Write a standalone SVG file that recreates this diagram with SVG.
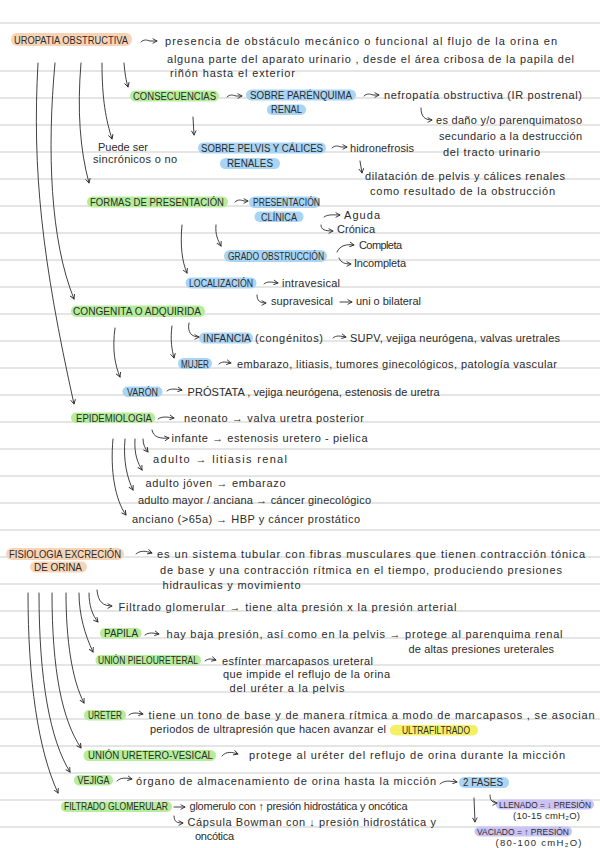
<svg xmlns="http://www.w3.org/2000/svg" width="600" height="848" viewBox="0 0 600 848">
<defs>
<style>
.t{font-family:"Liberation Sans",Arial,sans-serif;font-size:11px;fill:#2b2b2b}
.s{font-family:"Liberation Sans",Arial,sans-serif;font-size:9.5px;fill:#2b2b2b}
.u{font-family:"Liberation Sans",Arial,sans-serif;font-size:10px;fill:#2b2b2b}
.us{font-family:"Liberation Sans",Arial,sans-serif;font-size:8.5px;fill:#2b2b2b}
.c{fill:none;stroke:#2b2b2b;stroke-width:0.9;stroke-linecap:round}
.rl{stroke:#dcdcdc;stroke-width:1.3}
.or{fill:#f8d4b6}
.gr{fill:#b5ed9b}
.bl{fill:#a9d4f4}
.ye{fill:#f4f066}
.pu{fill:#cbc3f4}
</style>
<marker id="ah" viewBox="0 0 6 6" refX="5" refY="3" markerWidth="6" markerHeight="6" orient="auto" markerUnits="userSpaceOnUse">
<path d="M0.6,0.6 L5,3 L0.6,5.4" fill="none" stroke="#2b2b2b" stroke-width="0.9"/>
</marker>
</defs>
<rect width="600" height="848" fill="#ffffff"/>
<g id="ruled-lines">
<line class="rl" x1="0" y1="23" x2="600" y2="23"/>
<line class="rl" x1="0" y1="71" x2="600" y2="71"/>
<line class="rl" x1="0" y1="98" x2="600" y2="98"/>
<line class="rl" x1="0" y1="125" x2="600" y2="125"/>
<line class="rl" x1="0" y1="152" x2="600" y2="152"/>
<line class="rl" x1="0" y1="179" x2="600" y2="179"/>
<line class="rl" x1="0" y1="206" x2="600" y2="206"/>
<line class="rl" x1="0" y1="233" x2="600" y2="233"/>
<line class="rl" x1="0" y1="260" x2="600" y2="260"/>
<line class="rl" x1="0" y1="287" x2="600" y2="287"/>
<line class="rl" x1="0" y1="314" x2="600" y2="314"/>
<line class="rl" x1="0" y1="341" x2="600" y2="341"/>
<line class="rl" x1="0" y1="368" x2="600" y2="368"/>
<line class="rl" x1="0" y1="395" x2="600" y2="395"/>
<line class="rl" x1="0" y1="422" x2="600" y2="422"/>
<line class="rl" x1="0" y1="449" x2="600" y2="449"/>
<line class="rl" x1="0" y1="476" x2="600" y2="476"/>
<line class="rl" x1="0" y1="503" x2="600" y2="503"/>
<line class="rl" x1="0" y1="530" x2="600" y2="530"/>
<line class="rl" x1="0" y1="557" x2="600" y2="557"/>
<line class="rl" x1="0" y1="584" x2="600" y2="584"/>
<line class="rl" x1="0" y1="611" x2="600" y2="611"/>
<line class="rl" x1="0" y1="638" x2="600" y2="638"/>
<line class="rl" x1="0" y1="665" x2="600" y2="665"/>
<line class="rl" x1="0" y1="692" x2="600" y2="692"/>
<line class="rl" x1="0" y1="719" x2="600" y2="719"/>
<line class="rl" x1="0" y1="746" x2="600" y2="746"/>
<line class="rl" x1="0" y1="773" x2="600" y2="773"/>
<line class="rl" x1="0" y1="800" x2="600" y2="800"/>
<line class="rl" x1="0" y1="827" x2="600" y2="827"/>
</g>

<g id="uropatia"><rect class="or" x="11" y="33" width="121" height="13" rx="6"/><text class="u" x="14" y="43.5" textLength="114" lengthAdjust="spacingAndGlyphs">UROPATIA OBSTRUCTIVA</text></g>
<g id="def-uropatia">
<text class="t" x="165" y="45" textLength="392">presencia de obstáculo mecánico o funcional al flujo de la orina  en</text>
<text class="t" x="167" y="63" textLength="407">alguna parte del aparato urinario , desde el área cribosa de la papila del</text>
<text class="t" x="170" y="77" textLength="125">riñón hasta el exterior</text>
</g>
<g id="consecuencias"><rect class="gr" x="130" y="90.5" width="89" height="11" rx="5.5"/><text class="u" x="133" y="99.5" textLength="83" lengthAdjust="spacingAndGlyphs">CONSECUENCIAS</text></g>
<g id="parenquima"><rect class="bl" x="246" y="89.5" width="110" height="11" rx="5.5"/><rect class="bl" x="267" y="104.5" width="39" height="10.5" rx="5"/><text class="u" x="250" y="99" textLength="102" lengthAdjust="spacingAndGlyphs">SOBRE PARÉNQUIMA</text><text class="u" x="271" y="113" textLength="31" lengthAdjust="spacingAndGlyphs">RENAL</text></g>
<g id="nefropatia"><text class="t" x="384" y="99" textLength="198">nefropatía obstructiva (IR postrenal)</text></g>
<g id="dano">
<text class="t" x="436" y="124" textLength="146">es daño y/o parenquimatoso</text>
<text class="t" x="439" y="139.5" textLength="143">secundario a la destrucción</text>
<text class="t" x="443" y="155.5" textLength="97">del tracto urinario</text>
</g>
<g id="puede-ser"><text class="t" x="98" y="151" textLength="50">Puede ser</text><text class="t" x="93" y="163" textLength="84">sincrónicos o no</text></g>
<g id="pelvis"><rect class="bl" x="198" y="142.5" width="128" height="11" rx="5.5"/><rect class="bl" x="220" y="158" width="60" height="11" rx="5.5"/><text class="u" x="201" y="152" textLength="122" lengthAdjust="spacingAndGlyphs">SOBRE PELVIS Y CÁLICES</text><text class="u" x="227" y="167" textLength="46" lengthAdjust="spacingAndGlyphs">RENALES</text></g>
<g id="hidronefrosis"><text class="t" x="350" y="151.5" textLength="64">hidronefrosis</text></g>
<g id="dilatacion">
<text class="t" x="365" y="179.5" textLength="200">dilatación de pelvis y cálices renales</text>
<text class="t" x="370" y="195" textLength="185">como resultado de la obstrucción</text>
</g>
<g id="formas"><rect class="gr" x="87" y="196.5" width="141" height="11" rx="5.5"/><text class="u" x="90" y="206" textLength="134" lengthAdjust="spacingAndGlyphs">FORMAS DE PRESENTACIÓN</text></g>
<g id="clinica"><rect class="bl" x="249" y="196.5" width="71" height="11.5" rx="5.5"/><rect class="bl" x="254.5" y="211.5" width="49" height="10.5" rx="5"/><text class="u" x="253" y="206" textLength="67" lengthAdjust="spacingAndGlyphs">PRESENTACIÓN</text><text class="u" x="261" y="220.5" textLength="36" lengthAdjust="spacingAndGlyphs">CLÍNICA</text></g>
<g id="aguda"><text class="t" x="344" y="219" textLength="36">Aguda</text></g>
<g id="cronica"><text class="t" x="337" y="233" textLength="38">Crónica</text></g>
<g id="grado"><rect class="bl" x="224" y="250" width="103" height="12" rx="6"/><text class="u" x="228" y="259.5" textLength="96" lengthAdjust="spacingAndGlyphs">GRADO OBSTRUCCIÓN</text></g>
<g id="completa"><text class="t" x="359" y="248.5" textLength="43">Completa</text></g>
<g id="incompleta"><text class="t" x="354" y="267" textLength="52">Incompleta</text></g>
<g id="localizacion"><rect class="bl" x="185.5" y="277.5" width="71" height="11" rx="5.5"/><text class="u" x="189" y="287" textLength="64" lengthAdjust="spacingAndGlyphs">LOCALIZACIÓN</text></g>
<g id="intravesical"><text class="t" x="282" y="287" textLength="58">intravesical</text></g>
<g id="supravesical"><text class="t" x="271" y="305" textLength="62">supravesical</text></g>
<g id="bilateral"><text class="t" x="356" y="304.5" textLength="65">uni o bilateral</text></g>
<g id="congenita"><rect class="gr" x="71" y="305.5" width="134" height="11.5" rx="5.5"/><text class="u" x="73" y="315" textLength="128" lengthAdjust="spacingAndGlyphs">CONGENITA O ADQUIRIDA</text></g>
<g id="infancia"><rect class="bl" x="199" y="332.5" width="54" height="11" rx="5.5"/><text class="u" x="203" y="342" textLength="48" lengthAdjust="spacingAndGlyphs">INFANCIA</text><text class="t" x="255" y="342" textLength="68">(congénitos)</text></g>
<g id="supv"><text class="t" x="350" y="342" textLength="210">SUPV, vejiga neurógena, valvas uretrales</text></g>
<g id="mujer"><rect class="bl" x="178" y="358" width="34" height="11" rx="5.5"/><text class="u" x="181" y="367.5" textLength="28" lengthAdjust="spacingAndGlyphs">MUJER</text></g>
<g id="mujer-causas"><text class="t" x="237" y="368" textLength="320">embarazo, litiasis, tumores ginecológicos, patología vascular</text></g>
<g id="varon"><rect class="bl" x="122.5" y="386.5" width="40" height="10.5" rx="5"/><text class="u" x="127" y="395.5" textLength="31" lengthAdjust="spacingAndGlyphs">VARÓN</text></g>
<g id="varon-causas"><text class="t" x="187.5" y="395.5" textLength="252">PRÓSTATA , vejiga neurógena, estenosis de uretra</text></g>
<g id="epidemiologia"><rect class="gr" x="71" y="412.5" width="84" height="10.5" rx="5"/><text class="u" x="76" y="421.5" textLength="76" lengthAdjust="spacingAndGlyphs">EPIDEMIOLOGIA</text></g>
<g id="neonato"><text class="t" x="184" y="422" textLength="180">neonato → valva uretra posterior</text></g>
<g id="infante"><text class="t" x="171.5" y="442" textLength="196">infante → estenosis uretero - pielica</text></g>
<g id="adulto"><text class="t" x="153" y="463" textLength="134">adulto → litiasis renal</text></g>
<g id="adulto-joven"><text class="t" x="145.5" y="486.5" textLength="140">adulto jóven → embarazo</text></g>
<g id="adulto-mayor"><text class="t" x="138" y="504" textLength="233">adulto mayor / anciana → cáncer ginecológico</text></g>
<g id="anciano"><text class="t" x="132" y="523" textLength="228">anciano (&gt;65a) → HBP y cáncer prostático</text></g>

<g id="fisiologia"><rect class="or" x="6" y="548" width="118" height="12" rx="6"/><rect class="or" x="30" y="561.5" width="57" height="11" rx="5.5"/><text class="u" x="9" y="558" textLength="112" lengthAdjust="spacingAndGlyphs">FISIOLOGIA EXCRECIÓN</text><text class="u" x="34" y="570.5" textLength="48" lengthAdjust="spacingAndGlyphs">DE ORINA</text></g>
<g id="def-fisiologia">
<text class="t" x="157" y="558" textLength="428">es un sistema tubular con fibras musculares que tienen  contracción tónica</text>
<text class="t" x="160" y="573.5" textLength="402">de base y una contracción rítmica en el tiempo, produciendo presiones</text>
<text class="t" x="162.5" y="589" textLength="138">hidraulicas y movimiento</text>
</g>
<g id="filtrado"><text class="t" x="118.5" y="610.5" textLength="338">Filtrado glomerular → tiene alta presión x la presión arterial</text></g>
<g id="papila"><rect class="gr" x="100" y="628" width="41.5" height="10.5" rx="5"/><text class="u" x="104" y="637" textLength="34" lengthAdjust="spacingAndGlyphs">PAPILA</text></g>
<g id="papila-desc">
<text class="t" x="166.5" y="637.5" textLength="396">hay baja presión, así como en la pelvis → protege al parenquima renal</text>
<text class="t" x="408.5" y="652.5" textLength="145.5">de altas presiones ureterales</text>
</g>
<g id="pieloureteral"><rect class="gr" x="95.5" y="655" width="105.5" height="10.5" rx="5"/><text class="u" x="98" y="664" textLength="100" lengthAdjust="spacingAndGlyphs">UNIÓN PIELOURETERAL</text></g>
<g id="pieloureteral-desc">
<text class="t" x="222" y="665" textLength="151">esfínter marcapasos ureteral</text>
<text class="t" x="223" y="678" textLength="167">que impide el reflujo de la orina</text>
<text class="t" x="229.5" y="692" textLength="115">del uréter a la pelvis</text>
</g>
<g id="ureter"><rect class="gr" x="84" y="710" width="42" height="10.5" rx="5"/><text class="u" x="88" y="719" textLength="34" lengthAdjust="spacingAndGlyphs">URETER</text></g>
<g id="ureter-desc">
<text class="t" x="148.5" y="719" textLength="446">tiene un tono  de base y de manera rítmica a modo de marcapasos , se asocian</text>
<text class="t" x="150" y="733" textLength="236">periodos de ultrapresión que hacen avanzar el</text>
<rect class="ye" x="390" y="725" width="88" height="10.5" rx="5"/>
<text class="u" x="402" y="733.5" textLength="68" lengthAdjust="spacingAndGlyphs">ULTRAFILTRADO</text>
</g>
<g id="ureterovesical"><rect class="gr" x="83.5" y="750" width="132.5" height="11" rx="5.5"/><text class="u" x="88" y="759" textLength="125" lengthAdjust="spacingAndGlyphs">UNIÓN URETERO-VESICAL</text></g>
<g id="ureterovesical-desc"><text class="t" x="249" y="759" textLength="316">protege al uréter del reflujo de orina durante la micción</text></g>
<g id="vejiga"><rect class="gr" x="74" y="775" width="39" height="10.5" rx="5"/><text class="u" x="77.5" y="784" textLength="32" lengthAdjust="spacingAndGlyphs">VEJIGA</text></g>
<g id="vejiga-desc"><text class="t" x="136" y="785" textLength="300">órgano de almacenamiento de orina hasta la micción</text></g>
<g id="fases"><rect class="bl" x="459" y="777" width="50" height="11" rx="5.5"/><text class="u" x="463" y="786" textLength="40" lengthAdjust="spacingAndGlyphs">2 FASES</text></g>
<g id="filtrado-glomerular"><rect class="gr" x="61" y="801.5" width="111" height="10.5" rx="5"/><text class="u" x="64" y="810" textLength="104" lengthAdjust="spacingAndGlyphs">FILTRADO GLOMERULAR</text></g>
<g id="glomerulo"><text class="t" x="189.5" y="810" textLength="218">glomerulo con ↑ presión hidrostática y oncótica</text></g>
<g id="bowman">
<text class="t" x="187.5" y="826" textLength="248.5">Cápsula Bowman con ↓ presión hidrostática y</text>
<text class="t" x="195" y="839.5" textLength="39">oncótica</text>
</g>
<g id="llenado"><rect class="pu" x="496" y="799.5" width="98" height="10" rx="5"/><text class="us" x="499" y="808" textLength="92" lengthAdjust="spacingAndGlyphs">LLENADO = ↓ PRESIÓN</text><text class="s" x="513" y="819" textLength="67">(10-15 cmH₂O)</text></g>
<g id="vaciado"><rect class="pu" x="474.5" y="826.5" width="97.5" height="10" rx="5"/><text class="us" x="477" y="835" textLength="92" lengthAdjust="spacingAndGlyphs">VACIADO = ↑ PRESIÓN</text><text class="s" x="495.5" y="846" textLength="86">(80-100 cmH₂O)</text></g>

<g id="connectors">
<path class="c" marker-end="url(#ah)" d="M38,63 C32,170 42,260 74,404"/>
<path class="c" marker-end="url(#ah)" d="M55,63 C47,150 50,240 74,299"/>
<path class="c" marker-end="url(#ah)" d="M81,63 C77,110 80,150 89,183"/>
<path class="c" marker-end="url(#ah)" d="M102,63 C102,100 106,120 112,139"/>
<path class="c" marker-end="url(#ah)" d="M124,63 C125,75 126,80 128,87"/>
<path class="c" marker-end="url(#ah)" d="M141,42 C144,39 147,40 150,41 L157,41"/>
<path class="c" marker-end="url(#ah)" d="M227,97 C230,94 233,95 236,96 L242,96"/>
<path class="c" marker-end="url(#ah)" d="M364,96 C367,93 370,94 373,95 L379,95"/>
<path class="c" marker-end="url(#ah)" d="M421,108 C421,116 424,120 432,120"/>
<path class="c" marker-end="url(#ah)" d="M193,117 L194,135"/>
<path class="c" marker-end="url(#ah)" d="M332,148 C335,145 338,146 341,147 L347,147"/>
<path class="c" marker-end="url(#ah)" d="M360,161 L362,173"/>
<path class="c" marker-end="url(#ah)" d="M235,202 C238,199 241,200 244,201 L248,201"/>
<path class="c" marker-end="url(#ah)" d="M324,217 C328,214 334,215 340,215"/>
<path class="c" marker-end="url(#ah)" d="M321,225 C321,230 325,231 333,231"/>
<path class="c" marker-end="url(#ah)" d="M216,225 C215,235 218,240 221,246"/>
<path class="c" marker-end="url(#ah)" d="M182,225 C180,245 182,262 187,273"/>
<path class="c" marker-end="url(#ah)" d="M337,252 C340,245 347,244 354,245"/>
<path class="c" marker-end="url(#ah)" d="M339,258 C341,263 345,264 351,264"/>
<path class="c" marker-end="url(#ah)" d="M264,284 C267,281 271,282 278,283"/>
<path class="c" marker-end="url(#ah)" d="M257,295 C257,301 260,303 266,303"/>
<path class="c" marker-end="url(#ah)" d="M340,302 L352,302"/>
<path class="c" marker-end="url(#ah)" d="M189,323 C187,333 192,337 199,337"/>
<path class="c" marker-end="url(#ah)" d="M333,338 C336,335 340,336 346,337"/>
<path class="c" marker-end="url(#ah)" d="M172,326 C170,340 172,350 174,358"/>
<path class="c" marker-end="url(#ah)" d="M219,364 C222,361 226,362 231,363"/>
<path class="c" marker-end="url(#ah)" d="M115,328 C112,350 115,365 120,377"/>
<path class="c" marker-end="url(#ah)" d="M167,391 C170,388 175,389 182,390"/>
<path class="c" marker-end="url(#ah)" d="M158,419 C162,416 167,417 174,418"/>
<path class="c" marker-end="url(#ah)" d="M152,430 C153,437 160,439 169,438"/>
<path class="c" marker-end="url(#ah)" d="M143,439 C143,445 145,448 148,452"/>
<path class="c" marker-end="url(#ah)" d="M135,439 C134,455 138,463 142,470"/>
<path class="c" marker-end="url(#ah)" d="M125,439 C123,460 127,478 133,490"/>
<path class="c" marker-end="url(#ah)" d="M113,439 C110,470 115,500 126,515"/>
<path class="c" marker-end="url(#ah)" d="M136,554 C140,550 146,551 152,553"/>
<path class="c" marker-end="url(#ah)" d="M28,593 C28,680 38,750 58,793"/>
<path class="c" marker-end="url(#ah)" d="M39,593 C39,680 50,740 70,772"/>
<path class="c" marker-end="url(#ah)" d="M52,593 C52,670 62,720 81,748"/>
<path class="c" marker-end="url(#ah)" d="M66,593 C66,640 72,680 84,703"/>
<path class="c" marker-end="url(#ah)" d="M79,593 C79,615 85,635 93,652"/>
<path class="c" marker-end="url(#ah)" d="M89,593 C89,605 92,615 98,622"/>
<path class="c" marker-end="url(#ah)" d="M97,590 C98,602 103,606 112,606"/>
<path class="c" marker-end="url(#ah)" d="M145,635 C149,632 153,633 159,634"/>
<path class="c" marker-end="url(#ah)" d="M205,661 C208,658 212,659 216,660"/>
<path class="c" marker-end="url(#ah)" d="M129,715 C132,712 137,713 143,714"/>
<path class="c" marker-end="url(#ah)" d="M222,756 C226,751 232,752 238,754"/>
<path class="c" marker-end="url(#ah)" d="M117,781 C121,777 126,778 132,779"/>
<path class="c" marker-end="url(#ah)" d="M440,784 C444,780 450,781 457,782"/>
<path class="c" marker-end="url(#ah)" d="M174,807 L185,807"/>
<path class="c" marker-end="url(#ah)" d="M174,816 C174,822 177,823 183,823"/>
<path class="c" marker-end="url(#ah)" d="M490,795 C490,801 493,803 497,803"/>
<path class="c" marker-end="url(#ah)" d="M474,798 L475,822"/>
</g>
</svg>
